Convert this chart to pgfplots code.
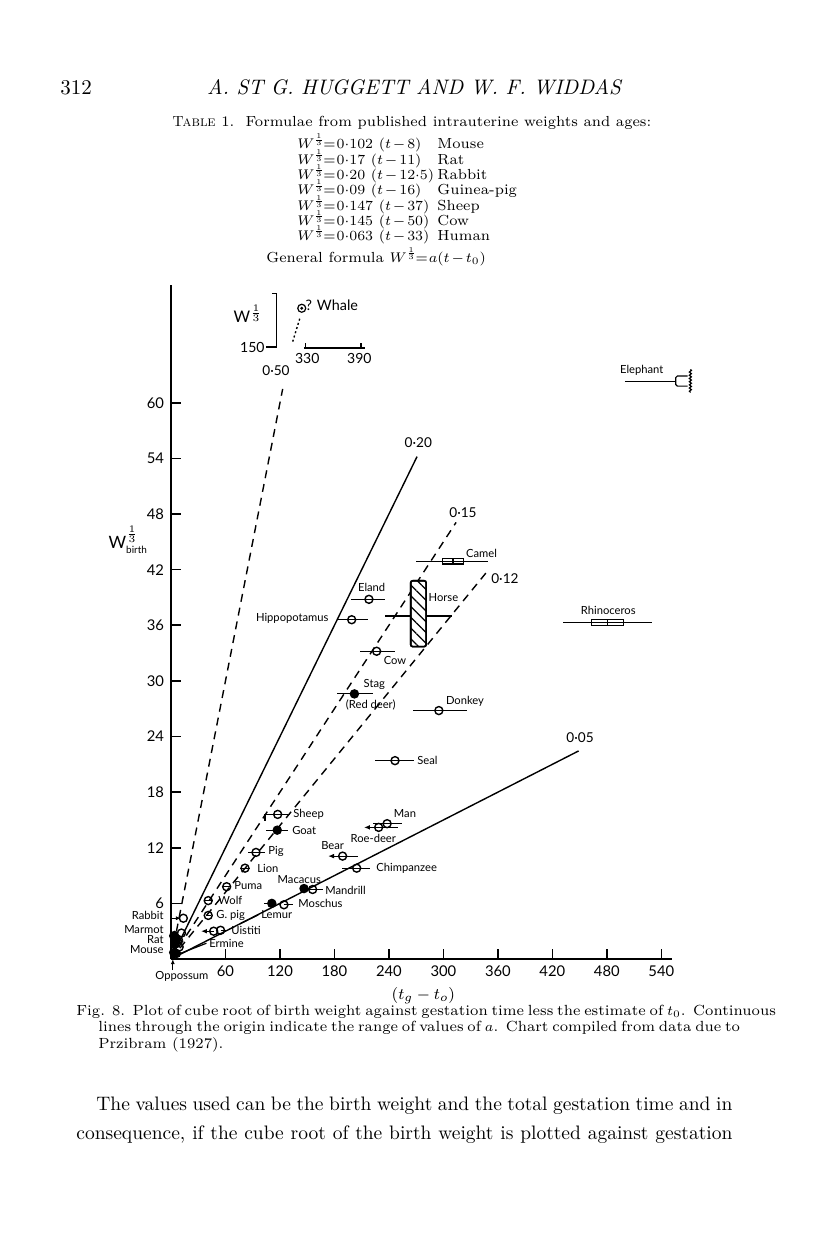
\documentclass[border=0pt]{standalone}
\usepackage{fontspec}
\usepackage{graphicx}
\usepackage{pgfplots}
\pgfplotsset{compat=1.18}
\usetikzlibrary{patterns.meta,arrows.meta,decorations.pathmorphing}
\newfontfamily\chartfont{Lato}
\newcommand\lab{\chartfont\fontsize{5.6}{6.5}\selectfont}
\newcommand\tabfont{\fontsize{7.3}{7.65}\selectfont}
\newcommand\third{\smash{\raisebox{0.15ex}{\scalebox{0.75}{$\scriptscriptstyle\frac{1}{3}$}}}}
\newcommand\Wt{W^{\third}\mkern-1mu{=}\mkern1mu}
\newcommand\mn{\mkern2mu{-}\mkern2mu}

% capsule marks for Camel and Rhinoceros
\pgfdeclareplotmark{camelcap}{%
  \pgfsetcornersarced{\pgfpoint{1.3pt}{1.3pt}}%
  \pgfpathrectangle{\pgfpoint{-5.2pt}{-1.35pt}}{\pgfpoint{10.4pt}{2.7pt}}\pgfusepathqstroke
  \pgfsetcornersarced{\pgfpointorigin}%
  \pgfpathmoveto{\pgfpoint{0pt}{-1.35pt}}\pgfpathlineto{\pgfpoint{0pt}{1.35pt}}\pgfusepathqstroke}
\pgfdeclareplotmark{rhinocap}{%
  \pgfsetcornersarced{\pgfpoint{1.4pt}{1.4pt}}%
  \pgfpathrectangle{\pgfpoint{-7.9pt}{-1.5pt}}{\pgfpoint{15.8pt}{3pt}}\pgfusepathqstroke
  \pgfsetcornersarced{\pgfpointorigin}%
  \pgfpathmoveto{\pgfpoint{0pt}{-1.5pt}}\pgfpathlineto{\pgfpoint{0pt}{1.5pt}}\pgfusepathqstroke}

\pgfplotsset{
  bars/.style={only marks, mark size=2pt, mark options={line width=0.7pt},
    error bars/x dir=both, error bars/x explicit, error bars/error mark=none,
    error bars/error bar style={line width=0.6pt}},
  ray/.style={black, line width=0.7pt},
  dray/.style={black, line width=0.7pt, dash pattern=on 4pt off 3pt},
}
\newcommand\rl[3]{\node[font=\chartfont\fontsize{6.8}{8}\selectfont] at (axis cs:#2,#3) {#1};}
\newcommand\cl[3]{\node[font=\lab] at (axis cs:#2,#3) {#1};}
\newcommand\wl[3]{\node[font=\lab, anchor=west, inner sep=0.5pt] at (axis cs:#2,#3) {#1};}
\newcommand\el[3]{\node[font=\lab, anchor=east, inner sep=0.5pt] at (axis cs:#2,#3) {#1};}

\begin{document}
\begin{tikzpicture}
\begin{scope}[x=0.5pt,y=-0.5pt]
\useasboundingbox (0,0) rectangle (816,1249);
\fill[white] (0,0) rectangle (816,1249);
\coordinate (O) at (171,959);
% running head
\node[font=\fontsize{10.5}{12}\selectfont] at (76,88) {312};
\node[font=\fontsize{10.5}{12}\selectfont\itshape] at (414,87) {A. ST G. HUGGETT AND W. F. WIDDAS};
% table
\node[anchor=west, font=\tabfont, inner sep=0] at (172,123) {\textsc{Table} 1.\ \ Formulae from published intrauterine weights and ages:};
\node[anchor=north west, font=\tabfont, inner sep=0] at (297,137.7) {%
  \begin{tabular}{@{}p{70pt}@{}l@{}}
  $\Wt 0{\cdot}102\ (t\mn 8)$ & Mouse\\
  $\Wt 0{\cdot}17\ (t\mn 11)$ & Rat\\
  $\Wt 0{\cdot}20\ (t\mn 12{\cdot}5)$ & Rabbit\\
  $\Wt 0{\cdot}09\ (t\mn 16)$ & Guinea-pig\\
  $\Wt 0{\cdot}147\ (t\mn 37)$ & Sheep\\
  $\Wt 0{\cdot}145\ (t\mn 50)$ & Cow\\
  $\Wt 0{\cdot}063\ (t\mn 33)$ & Human
  \end{tabular}};
\node[anchor=west, font=\tabfont, inner sep=0] at (266,258.5) {General formula $\Wt a(t\mn t_0)$};
% caption
\node[anchor=west, font=\fontsize{7.35}{8.5}\selectfont, inner sep=0] at (76,1012)
  {\makebox[328pt][s]{Fig. 8.\ \ Plot of cube root of birth weight against gestation time less the estimate of $t_0$.\ \ Continuous}};
\node[anchor=west, font=\fontsize{7.35}{8.5}\selectfont, inner sep=0] at (98,1028)
  {\makebox[317pt][s]{lines through the origin indicate the range of values of $a$.\ \ Chart compiled from data due to}};
\node[anchor=west, font=\fontsize{7.35}{8.5}\selectfont, inner sep=0] at (98,1045) {Przibram (1927).};
% body text
\node[anchor=west, font=\fontsize{9.75}{12}\selectfont, inner sep=0] at (96,1106)
  {\makebox[318pt][s]{The values used can be the birth weight and the total gestation time and in}};
\node[anchor=west, font=\fontsize{9.75}{12}\selectfont, inner sep=0] at (76,1135)
  {\makebox[328pt][s]{consequence, if the cube root of the birth weight is plotted against gestation}};
\end{scope}

\begin{axis}[at={(O)}, anchor=south west, x=0.454pt, y=4.635pt,
  xmin=0, xmax=552, ymin=0, ymax=72.7, enlargelimits=false,
  axis lines=left, axis line style={-, line width=1pt}, clip=false,
  xtick={60,120,...,540}, ytick={6,12,...,60},
  tick align=inside, major tick length=5pt, tick style={line width=0.8pt, black},
  tick label style={font=\chartfont\fontsize{7.4}{8}\selectfont},
  /pgf/number format/assume math mode=true]

% lines through the origin
\addplot[dray] coordinates {(0,0) (123,61.5)};
\addplot[ray] coordinates {(0,0) (271,54.2)};
\addplot[dray] coordinates {(0,0) (314,47.1)};
\addplot[dray] coordinates {(0,0) (349,41.9)};
\addplot[ray] coordinates {(0,0) (449,22.45)};

% open circles with ranges
\addplot[bars, mark=o] table[x=x, y=y, x error minus=em, x error plus=ep] {
x     y     em    ep
218   38.8  20    17.5
199   36.6  16.5  18.3
226.5 33.2  18.5  20.2
295   26.8  28    30.6
246.7 21.4  22    20.9
117.5 15.6  14    13.5
93.6  11.5  8.6   9.9
81.5  9.8   5     5
61.3  7.8   4     4.5
41    6.3   4     4
41    4.7   3     3
54.6  3.1   0     8.5
47    3.0   0     0
156   7.5   14    11
124.4 5.85  0     9.6
204.5 9.8   16.5  14.5
238   14.6  15.5  16
228.7 14.2  0     21.3
189   11.1  0     17
13.6  4.4   0     0
11.5  2.8   0     0
8     2.1   0     0
9     1.3   0     0
};
% filled circles
\addplot[bars, mark=*] table[x=x, y=y, x error minus=em, x error plus=ep] {
x     y     em    ep
117   13.9  12    12
202   28.6  19    20
146.5 7.6   0     0
111   6.0   9     0
3     0.7   0     0
4.5   1.6   0     0
3     2.5   0     0
6     0.6   0     0
6     2.1   0     0
};
% Camel and Rhinoceros
\addplot[bars, mark=camelcap] table[x=x, y=y, x error minus=em, x error plus=ep] {
x     y     em    ep
310.6 42.9  40.6  38.8
};
\addplot[bars, mark=rhinocap] table[x=x, y=y, x error minus=em, x error plus=ep] {
x     y     em    ep
480.7 36.3  48.7  48.7
};
% Horse
\addplot[line width=0.6pt] coordinates {(236,37) (309,37)};
\addplot[draw=black, line width=0.8pt, rounded corners=1pt, preaction={fill=white},
  pattern={Lines[angle=-45, distance=3.8pt, line width=0.6pt]}]
  coordinates {(264,33.7) (281,33.7) (281,40.8) (264,40.8)} -- cycle;
% arrows (lower limits)
\addplot[line width=0.6pt, -{Latex[length=3pt,width=2.4pt]}] coordinates {(47,3.0) (33,3.0)};
\addplot[line width=0.6pt, -{Latex[length=3pt,width=2.4pt]}] coordinates {(228.7,14.2) (212.5,14.2)};
\addplot[line width=0.6pt, -{Latex[length=3pt,width=2.4pt]}] coordinates {(189,11.1) (173,11.1)};
\addplot[line width=0.6pt, -{Latex[length=2.5pt,width=2pt]}] coordinates {(0,4.4) (11,4.4)};
\addplot[line width=0.6pt, -{Latex[length=2.5pt,width=2pt]}] coordinates {(0,2.85) (9,2.85)};
\addplot[line width=0.6pt, -{Latex[length=2.5pt,width=2pt]}] coordinates {(2,-1.2) (2,0)};
% leaders
\addplot[line width=0.6pt] coordinates {(5,0.4) (39,1.7)};
\addplot[line width=0.6pt] coordinates {(76,3.8) (96,4.75)};
\addplot[line width=0.6pt] coordinates {(103.5,15.6) (103.5,14.9)};
% Elephant
\addplot[line width=0.6pt] coordinates {(500,62.3) (556,62.3)};
\addplot[line width=0.6pt, rounded corners=0.8pt] coordinates {(569,62.9) (556,62.9) (556,61.8) (569,61.8)};
\addplot[line width=0.6pt, decorate, decoration={snake, amplitude=0.5pt, segment length=1.6pt}] coordinates {(572,63.6) (572,61.1)};
% Whale inset
\addplot[only marks, mark=o, mark size=2pt, mark options={line width=0.6pt}] coordinates {(144,70.2)};
\addplot[only marks, mark=*, mark size=0.5pt] coordinates {(144,70.2)};
\addplot[line width=0.7pt, dash pattern=on 1pt off 1.2pt] coordinates {(134,66.6) (142.5,69.3)};
\addplot[line width=0.8pt] coordinates {(111,71.8) (116.4,71.8) (116.4,66.0) (105,66.0)};
\addplot[line width=0.8pt] coordinates {(146.5,65.9) (213.5,65.9)};
\addplot[line width=0.8pt] coordinates {(148.3,65.9) (148.3,66.45)};
\addplot[line width=0.8pt] coordinates {(209,65.9) (209,66.45)};

% labels
\node[font=\chartfont\fontsize{8}{9}\selectfont] at (axis cs:85.1,69.6) {W$^{\frac{1}{3}}$};
\node[font=\chartfont\fontsize{7}{8}\selectfont, anchor=east, inner sep=0.5pt] at (axis cs:104.6,66.0) {150};
\node[font=\chartfont\fontsize{7}{8}\selectfont] at (axis cs:150,64.8) {330};
\node[font=\chartfont\fontsize{7}{8}\selectfont] at (axis cs:207.4,64.8) {390};
\node[font=\chartfont\fontsize{7.2}{8}\selectfont, anchor=west, inner sep=0.5pt] at (axis cs:146.7,70.5) {? Whale};
\rl{0·50}{115.6}{63.5}
\rl{0·20}{272.4}{55.7}
\rl{0·15}{321.6}{48.2}
\rl{0·12}{367.8}{41.0}
\rl{0·05}{450.5}{23.9}
\cl{Camel}{342}{43.7}
\cl{Eland}{221}{40.1}
\cl{Horse}{300}{39.0}
\cl{Rhinoceros}{481.6}{37.6}
\cl{Cow}{246.7}{32.2}
\cl{Stag}{223.9}{29.6}
\cl{(Red deer)}{220}{27.4}
\cl{Donkey}{323.8}{27.8}
\cl{Elephant}{518.4}{63.5}
\cl{Macacus}{141.3}{8.6}
\cl{Bear}{178}{12.2}
\cl{Man}{257.7}{15.7}
\cl{Roe-deer}{222.8}{13.0}
\wl{Seal}{269.8}{21.4}
\wl{Sheep}{133.3}{15.6}
\wl{Goat}{132}{13.9}
\wl{Pig}{105.7}{11.6}
\wl{Lion}{93.6}{9.8}
\wl{Puma}{68.3}{7.9}
\wl{Wolf}{50.7}{6.3}
\wl{G. pig}{48.5}{4.7}
\wl{Uistiti}{65}{3.05}
\wl{Ermine}{40.7}{1.7}
\wl{Lemur}{98}{4.85}
\wl{Mandrill}{168.5}{7.45}
\wl{Moschus}{138.8}{6.0}
\wl{Chimpanzee}{224.7}{9.8}
\el{Hippopotamus}{175}{36.8}
\el{Rabbit}{-6.6}{4.67}
\el{Marmot}{-6.6}{3.2}
\el{Rat}{-6.6}{2.1}
\el{Mouse}{-6.6}{1.05}
\cl{Oppossum}{12}{-1.9}
\node[font=\fontsize{8.5}{10}\selectfont] at (axis cs:278,-3.9) {$(t_g-t_o)$};
\node[font=\chartfont\fontsize{8.5}{10}\selectfont] at (axis cs:-47,45.2)
  {W$^{\frac{1}{3}}_{\mbox{\chartfont\fontsize{5}{6}\selectfont birth}}$};
\end{axis}
\end{tikzpicture}
\end{document}
